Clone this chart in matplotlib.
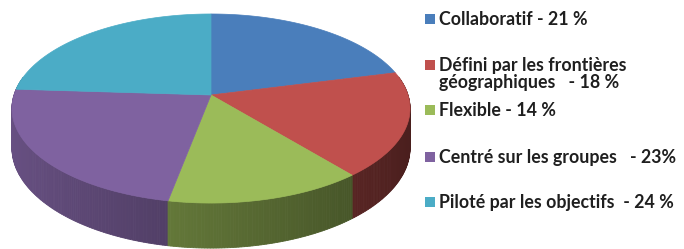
import numpy as np
import matplotlib
matplotlib.use("Agg")
import matplotlib.pyplot as plt
from matplotlib.patches import Polygon
from matplotlib.colors import to_rgb

# ---- data ----
labels = ["Collaboratif - 21 %",
          "Défini par les frontières\ngéographiques   - 18 %",
          "Flexible - 14 %",
          "Centré sur les groupes   - 23%",
          "Piloté par les objectifs  - 24 %"]
values = [21, 18, 14, 23, 24]
colors = ["#4a7ebb", "#c0504d", "#9bbb59", "#7f62a0", "#4bacc6"]

# ---- layout ----
W, Hpx = 684, 249
fig = plt.figure(figsize=(W / 100, Hpx / 100), dpi=100)
ax = fig.add_axes([0, 0, 1, 1])
ax.set_xlim(0, W)
ax.set_ylim(Hpx, 0)
ax.axis("off")

cx, cy = 211, 95          # pie centre on screen
A, B = 197, 92.6          # horizontal / vertical radii
K = 0.143                 # perspective factor
T = 38.6                  # thickness


def proj(theta, z):
    x, y = np.cos(theta), np.sin(theta)
    s = 1.0 / (1.0 + K * y)
    return cx + A * x * s, cy - B * y * s + T * z * s


vals = np.array(values, dtype=float)
fr = vals / vals.sum()
cum = np.concatenate([[0], np.cumsum(fr)])
starts = np.deg2rad(90 - 360 * cum[:-1])
ends = np.deg2rad(90 - 360 * cum[1:])

# ---- side walls ----
quads = []
for i in range(len(values)):
    th = np.linspace(ends[i], starts[i], max(3, int(abs(starts[i] - ends[i]) / np.deg2rad(0.7))))
    base = np.array(to_rgb(colors[i]))
    for t0, t1 in zip(th[:-1], th[1:]):
        tm = 0.5 * (t0 + t1)
        if np.sin(tm) > 0.2:
            continue
        f = 0.6 - 0.22 * np.cos(tm)
        c = np.clip(base * f, 0, 1)
        p = [proj(t0, 0), proj(t1, 0), proj(t1, 1), proj(t0, 1)]
        quads.append((np.sin(tm), p, c))
quads.sort(key=lambda q: -q[0])
for _, p, c in quads:
    ax.add_patch(Polygon(p, closed=True, facecolor=c, edgecolor=c, linewidth=0.6))

# ---- top face ----
for i in range(len(values)):
    th = np.linspace(starts[i], ends[i], 200)
    pts = [(cx, cy)] + [proj(t, 0) for t in th]
    ax.add_patch(Polygon(pts, closed=True, facecolor=colors[i], edgecolor=colors[i], linewidth=0.5))

# ---- legend ----
text_y = [19, 74, 110, 157, 202]
mark_y = [19, 65, 110, 157, 202]
for i, lab in enumerate(labels):
    ax.scatter([430], [mark_y[i]], marker="s", s=50, color=colors[i], linewidths=0)
    ax.text(439, text_y[i], lab, fontsize=12.8, fontweight="bold", family="Lato",
            color="#1f1f1f", va="center", ha="left", linespacing=1.0)

fig.savefig("out.png", dpi=100)
